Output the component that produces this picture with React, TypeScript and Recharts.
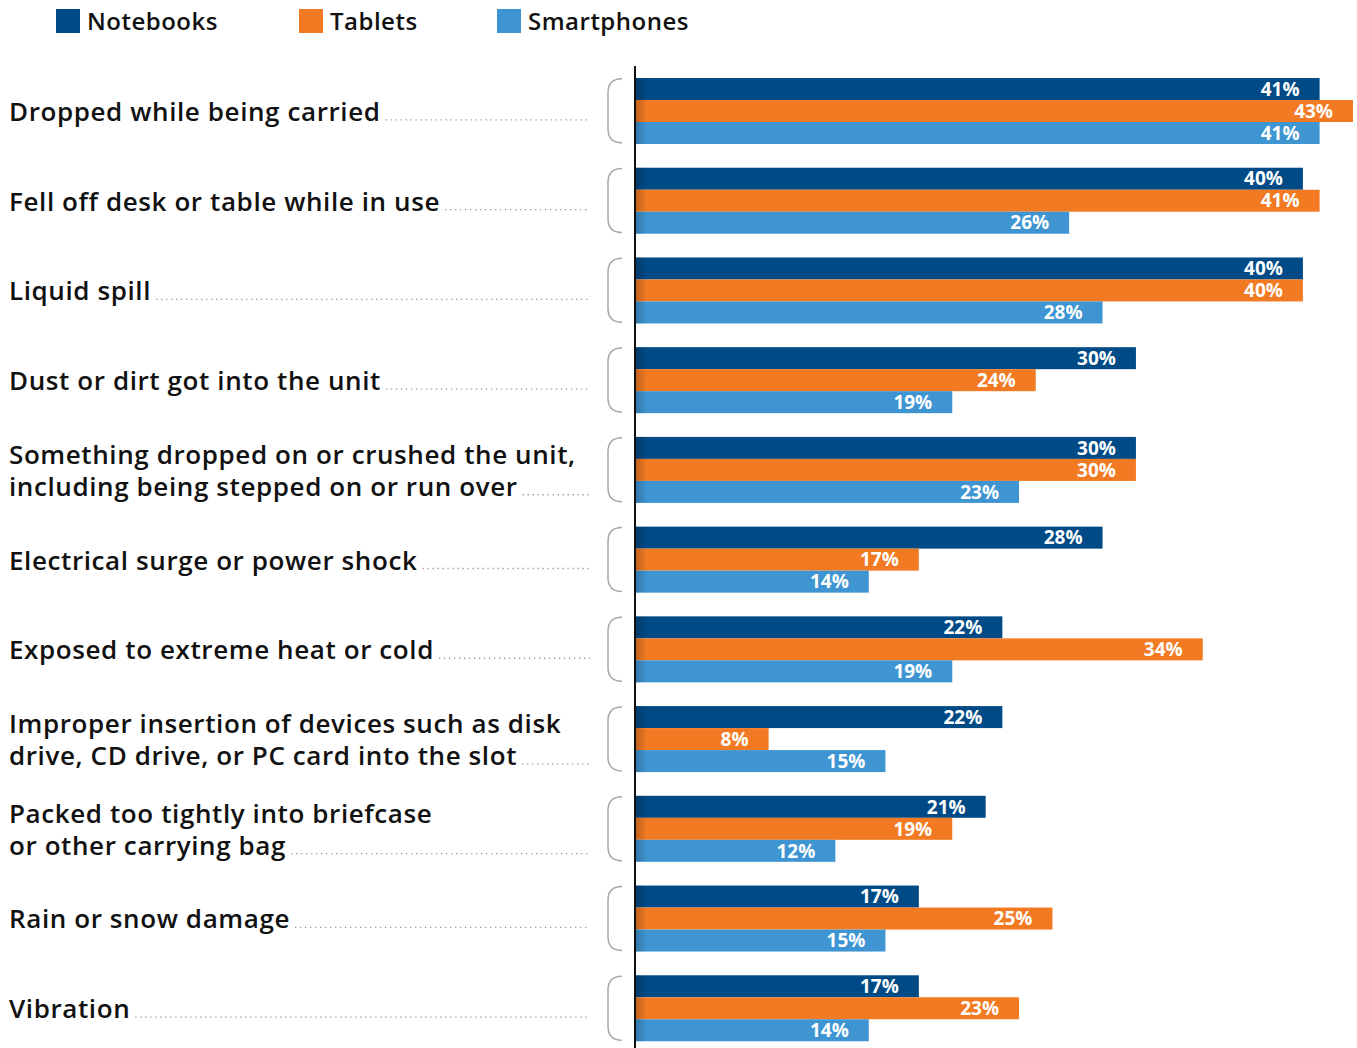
import { Bar, BarChart, LabelList, XAxis, YAxis } from "recharts";

const categories = [
  "Dropped while being carried",
  "Fell off desk or table while in use",
  "Liquid spill",
  "Dust or dirt got into the unit",
  "Something dropped on or crushed the unit,\nincluding being stepped on or run over",
  "Electrical surge or power shock",
  "Exposed to extreme heat or cold",
  "Improper insertion of devices such as disk\ndrive, CD drive, or PC card into the slot",
  "Packed too tightly into briefcase\nor other carrying bag",
  "Rain or snow damage",
  "Vibration",
];
const notebooks = [41, 40, 40, 30, 30, 28, 22, 22, 21, 17, 17];
const tablets = [43, 41, 40, 24, 30, 17, 34, 8, 19, 25, 23];
const smartphones = [41, 26, 28, 19, 23, 14, 19, 15, 12, 15, 14];

const series = [
  { key: "notebooks", label: "Notebooks", color: "#004a86" },
  { key: "tablets", label: "Tablets", color: "#f27a22" },
  { key: "smartphones", label: "Smartphones", color: "#3e95d2" },
];

const data = categories.map((name, i) => ({
  name,
  notebooks: notebooks[i],
  tablets: tablets[i],
  smartphones: smartphones[i],
}));

const FONT = "'Open Sans', Lato, sans-serif";
const LABEL_SIZE = 26;
const LABEL_LS = 0.6;

let ctx: CanvasRenderingContext2D | null = null;
function textWidth(s: string) {
  if (!ctx) ctx = document.createElement("canvas").getContext("2d");
  if (!ctx) return s.length * 14;
  ctx.font = `600 ${LABEL_SIZE}px 'Open Sans'`;
  return ctx.measureText(s).width + s.length * LABEL_LS;
}

function CategoryTick(props: any) {
  const { y, payload } = props;
  const lines: string[] = String(payload.value).split("\n");
  const lh = 32;
  const first = y - ((lines.length - 1) * lh) / 2 + 10;
  const lastBase = first + (lines.length - 1) * lh;
  const lastW = textWidth(lines[lines.length - 1]);
  return (
    <g>
      <text
        x={9}
        y={first}
        fill="#111"
        fontSize={LABEL_SIZE}
        fontWeight={600}
        fontFamily={FONT}
        letterSpacing={LABEL_LS}
      >
        {lines.map((l, i) => (
          <tspan key={i} x={9} y={first + i * lh}>
            {l}
          </tspan>
        ))}
      </text>
      <line
        x1={9 + lastW + 5}
        x2={590}
        y1={lastBase - 1}
        y2={lastBase - 1}
        stroke="#9a9a9a"
        strokeWidth={1.3}
        strokeDasharray="1.3 3.7"
      />
      <path
        d={`M622 ${y - 32} Q608 ${y - 32} 608 ${y - 18} L608 ${y + 18} Q608 ${y + 32} 622 ${y + 32}`}
        fill="none"
        stroke="#a8a8a8"
        strokeWidth={1.5}
      />
    </g>
  );
}

function ShadedBar(props: any) {
  const { x, y, width, height, fill } = props;
  if (!width || width <= 0) return null;
  return (
    <g>
      <rect x={x} y={y} width={width} height={height} fill={fill} />
      <rect x={x} y={y} width={Math.min(12, width)} height={height} fill="url(#edgeShade)" />
    </g>
  );
}

export default function App() {
  return (
    <div style={{ position: "absolute", left: 0, top: 0, width: 1357, height: 1048, overflow: "hidden", background: "#fff" }}>
      <div style={{ position: "absolute", left: 0, top: 0, fontFamily: FONT, zIndex: 2 }}>
        {series.map((s, i) => (
          <div
            key={s.key}
            style={{
              position: "absolute",
              left: [56, 299, 497][i],
              top: 9,
              display: "flex",
              alignItems: "center",
              whiteSpace: "nowrap",
            }}
          >
            <div style={{ width: 24, height: 24, background: s.color, marginRight: 7 }} />
            <span style={{ fontSize: 24, fontWeight: 600, color: "#111", lineHeight: "24px", letterSpacing: 0.5 }}>
              {s.label}
            </span>
          </div>
        ))}
      </div>
      <BarChart
        width={1357}
        height={1060}
        data={data}
        layout="vertical"
        margin={{ top: 66, right: 4, bottom: 7, left: 0 }}
        barCategoryGap={12}
        barGap={0}
      >
        <defs>
          <linearGradient id="edgeShade" x1="0" x2="1" y1="0" y2="0">
            <stop offset="0%" stopColor="#000" stopOpacity={0.22} />
            <stop offset="100%" stopColor="#000" stopOpacity={0} />
          </linearGradient>
        </defs>
        <XAxis type="number" domain={[0, 43]} hide />
        <YAxis
          type="category"
          dataKey="name"
          width={635}
          axisLine={{ stroke: "#111", strokeWidth: 2 }}
          tickLine={false}
          tick={<CategoryTick />}
          interval={0}
        />
        {series.map((s) => (
          <Bar
            key={s.key}
            dataKey={s.key}
            fill={s.color}
            barSize={22}
            shape={<ShadedBar />}
            isAnimationActive={false}
          >
            <LabelList
              dataKey={s.key}
              position="insideRight"
              offset={20}
              formatter={(v: any) => `${v}%`}
              fill="#fff"
              fontSize={19}
              fontWeight={700}
              fontFamily={FONT}
            />
          </Bar>
        ))}
      </BarChart>
    </div>
  );
}
